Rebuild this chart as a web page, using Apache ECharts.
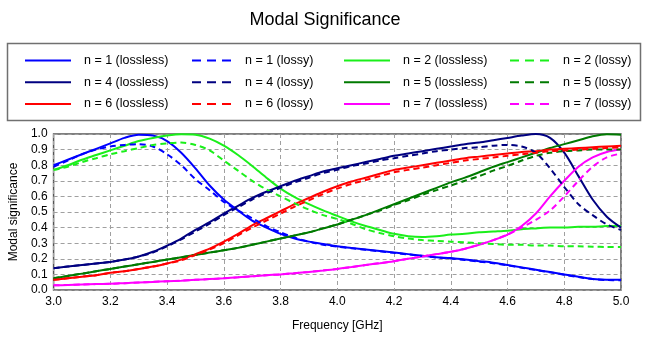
<!DOCTYPE html>
<html>
<head>
<meta charset="utf-8">
<script src="https://cdn.jsdelivr.net/npm/echarts@6/dist/echarts.min.js"></script>
<style>
html,body{margin:0;padding:0;background:#fff;}
#chart{width:650px;height:341px;}
</style>
</head>
<body>
<div id="chart"></div>
<script>
const freq = [3.0,3.05,3.1,3.15,3.2,3.25,3.3,3.35,3.4,3.45,3.5,3.55,3.6,3.65,3.7,3.75,3.8,3.85,3.9,3.95,4.0,4.05,4.1,4.15,4.2,4.25,4.3,4.35,4.4,4.45,4.5,4.55,4.6,4.65,4.7,4.75,4.8,4.85,4.9,4.95,5.0];

const n1Lossless = [0.80,0.835,0.87,0.905,0.94,0.975,0.995,0.99,0.955,0.88,0.78,0.67,0.58,0.51,0.445,0.40,0.36,0.33,0.31,0.295,0.28,0.27,0.26,0.25,0.24,0.23,0.22,0.21,0.205,0.195,0.185,0.175,0.16,0.145,0.13,0.115,0.10,0.085,0.07,0.065,0.065];
const n1Lossy = [0.79,0.83,0.87,0.90,0.92,0.93,0.935,0.92,0.87,0.80,0.71,0.64,0.565,0.51,0.46,0.41,0.37,0.335,0.31,0.29,0.278,0.268,0.258,0.248,0.238,0.228,0.218,0.208,0.202,0.192,0.182,0.172,0.158,0.143,0.128,0.113,0.098,0.083,0.07,0.064,0.063];
const n2Lossless = [0.77,0.80,0.835,0.865,0.895,0.925,0.955,0.975,0.99,0.998,0.995,0.97,0.925,0.865,0.795,0.72,0.65,0.595,0.55,0.51,0.475,0.44,0.41,0.385,0.36,0.345,0.34,0.345,0.355,0.36,0.37,0.375,0.38,0.39,0.395,0.40,0.40,0.405,0.405,0.41,0.41];
const n2Lossy = [0.77,0.79,0.82,0.845,0.87,0.89,0.91,0.93,0.94,0.945,0.93,0.895,0.83,0.765,0.70,0.645,0.60,0.555,0.515,0.48,0.455,0.425,0.39,0.365,0.345,0.33,0.32,0.315,0.31,0.305,0.30,0.295,0.29,0.29,0.285,0.285,0.28,0.28,0.278,0.276,0.275];
const n4Lossless = [0.14,0.15,0.16,0.17,0.18,0.195,0.215,0.245,0.285,0.33,0.385,0.435,0.49,0.54,0.59,0.63,0.665,0.70,0.73,0.76,0.78,0.80,0.82,0.84,0.86,0.875,0.89,0.905,0.92,0.935,0.945,0.96,0.975,0.99,1.0,0.975,0.88,0.73,0.58,0.47,0.40];
const n4Lossy = [0.14,0.15,0.16,0.17,0.18,0.195,0.215,0.24,0.28,0.325,0.375,0.425,0.48,0.53,0.58,0.62,0.655,0.69,0.72,0.75,0.77,0.795,0.81,0.83,0.845,0.86,0.875,0.89,0.90,0.91,0.915,0.925,0.93,0.92,0.88,0.78,0.66,0.55,0.48,0.42,0.385];
const n5Lossless = [0.075,0.09,0.105,0.12,0.135,0.15,0.165,0.18,0.195,0.21,0.225,0.24,0.255,0.27,0.29,0.31,0.33,0.35,0.37,0.395,0.42,0.45,0.48,0.515,0.55,0.585,0.62,0.655,0.69,0.72,0.755,0.79,0.82,0.85,0.88,0.91,0.935,0.96,0.985,0.998,0.995];
const n5Lossy = [0.075,0.09,0.105,0.12,0.135,0.15,0.165,0.18,0.195,0.21,0.225,0.24,0.255,0.27,0.29,0.31,0.33,0.35,0.37,0.395,0.42,0.45,0.48,0.51,0.545,0.575,0.61,0.64,0.67,0.70,0.73,0.765,0.795,0.83,0.86,0.88,0.89,0.895,0.90,0.90,0.90];
const n6Lossless = [0.065,0.075,0.085,0.095,0.11,0.12,0.135,0.15,0.17,0.195,0.23,0.265,0.31,0.36,0.415,0.46,0.505,0.55,0.59,0.63,0.665,0.695,0.72,0.745,0.77,0.785,0.80,0.815,0.83,0.845,0.855,0.865,0.875,0.885,0.89,0.90,0.905,0.91,0.915,0.92,0.925];
const n6Lossy = [0.065,0.075,0.085,0.095,0.11,0.12,0.135,0.15,0.17,0.19,0.225,0.26,0.30,0.35,0.40,0.445,0.49,0.535,0.575,0.615,0.65,0.68,0.705,0.73,0.755,0.77,0.785,0.80,0.815,0.83,0.84,0.85,0.86,0.87,0.88,0.89,0.895,0.90,0.905,0.91,0.915];
const n7Lossless = [0.03,0.032,0.035,0.038,0.04,0.044,0.048,0.052,0.056,0.06,0.065,0.07,0.075,0.081,0.088,0.095,0.10,0.108,0.116,0.125,0.135,0.147,0.16,0.172,0.185,0.20,0.215,0.23,0.245,0.265,0.29,0.32,0.355,0.41,0.49,0.60,0.70,0.79,0.85,0.885,0.90];
const n7Lossy = [0.03,0.032,0.035,0.038,0.04,0.044,0.048,0.052,0.056,0.06,0.065,0.07,0.075,0.081,0.088,0.095,0.10,0.108,0.116,0.125,0.135,0.147,0.16,0.172,0.185,0.20,0.215,0.23,0.245,0.265,0.29,0.32,0.355,0.40,0.45,0.51,0.60,0.70,0.79,0.85,0.875];

const xTicks = [3.0,3.2,3.4,3.6,3.8,4.0,4.2,4.4,4.6,4.8,5.0];
const yTicks = [0.0,0.1,0.2,0.3,0.4,0.5,0.6,0.7,0.8,0.9,1.0];

const C = {blue:'#0000ff', navy:'#000080', lime:'#1aef1a', dgreen:'#007a00', red:'#ff0000', mag:'#ff00ff'};
const defs = [
  ['n = 1 (lossless)', n1Lossless, C.blue, false],
  ['n = 1 (lossy)', n1Lossy, C.blue, true],
  ['n = 2 (lossless)', n2Lossless, C.lime, false],
  ['n = 2 (lossy)', n2Lossy, C.lime, true],
  ['n = 4 (lossless)', n4Lossless, C.navy, false],
  ['n = 4 (lossy)', n4Lossy, C.navy, true],
  ['n = 5 (lossless)', n5Lossless, C.dgreen, false],
  ['n = 5 (lossy)', n5Lossy, C.dgreen, true],
  ['n = 6 (lossless)', n6Lossless, C.red, false],
  ['n = 6 (lossy)', n6Lossy, C.red, true],
  ['n = 7 (lossless)', n7Lossless, C.mag, false],
  ['n = 7 (lossy)', n7Lossy, C.mag, true]
];
const series = defs.map(d => ({
  name: d[0], type: 'line', symbol: 'none', smooth: 0.3, clip: true,
  data: freq.map((f, i) => [f, d[1][i]]),
  lineStyle: {color: d[2], width: 2, type: d[3] ? [6, 4] : 'solid'},
  itemStyle: {color: d[2]},
  z: d[3] ? 3 : 2
}));

const font = 'Liberation Sans, Arial, sans-serif';
function legendCol(names, left, w, dashed) {
  const l = {
    orient: 'vertical', left: left, top: 54, itemWidth: w, itemHeight: 14, itemGap: 8.7,
    data: names, selectedMode: false, padding: 0,
    itemStyle: {opacity: 0, borderWidth: 0},
    textStyle: {fontFamily: font, fontSize: 12.5, color: '#000', padding: [0, 0, 0, 8]}
  };
  if (dashed) l.lineStyle = {type: [9, 6]};
  return l;
}

const chart = echarts.init(document.getElementById('chart'), null, {renderer: 'canvas'});
chart.setOption({
  animation: false,
  backgroundColor: '#fff',
  title: {text: 'Modal Significance', left: 'center', top: 6,
    textStyle: {fontFamily: font, fontSize: 18, fontWeight: 'normal', color: '#000'}},
  graphic: [{type: 'rect', shape: {x: 7.5, y: 43.5, width: 633, height: 77},
    style: {fill: 'none', stroke: '#707070', lineWidth: 1.5}, z: -1}],
  legend: [
    legendCol(['n = 1 (lossless)', 'n = 4 (lossless)', 'n = 6 (lossless)'], 24, 46, false),
    legendCol(['n = 1 (lossy)', 'n = 4 (lossy)', 'n = 6 (lossy)'], 191, 40, true),
    legendCol(['n = 2 (lossless)', 'n = 5 (lossless)', 'n = 7 (lossless)'], 343, 46, false),
    legendCol(['n = 2 (lossy)', 'n = 5 (lossy)', 'n = 7 (lossy)'], 509, 40, true)
  ],
  grid: {left: 53, right: 29, top: 134, bottom: 51, show: true, borderColor: '#555', borderWidth: 1.5, backgroundColor: '#fff'},
  xAxis: {
    type: 'value', min: 3.0, max: 5.0, interval: 0.2,
    name: 'Frequency [GHz]', nameLocation: 'middle', nameGap: 30,
    nameTextStyle: {fontFamily: font, fontSize: 12, color: '#000'},
    axisLine: {show: false}, axisTick: {show: false},
    axisLabel: {fontFamily: font, fontSize: 12, color: '#000', margin: 6,
      customValues: xTicks, formatter: v => v.toFixed(1)},
    splitLine: {show: true, lineStyle: {color: '#a0a0a0', type: [4, 3], width: 1}}
  },
  yAxis: {
    type: 'value', min: 0, max: 1, interval: 0.1,
    name: 'Modal significance', nameLocation: 'middle', nameGap: 26,
    nameTextStyle: {fontFamily: font, fontSize: 12, color: '#000'},
    axisLine: {show: false}, axisTick: {show: false},
    axisLabel: {fontFamily: font, fontSize: 12, color: '#000', margin: 6,
      customValues: yTicks, formatter: v => v.toFixed(1)},
    splitLine: {show: true, lineStyle: {color: '#a0a0a0', type: [4, 3], width: 1}}
  },
  series: series
});
</script>
</body>
</html>
